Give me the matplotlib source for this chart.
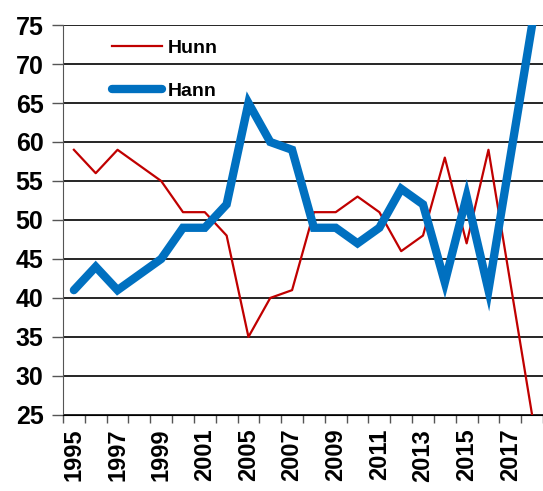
import matplotlib.pyplot as plt
import numpy as np

# data
years = [1995, 1996, 1997, 1998, 1999, 2000, 2001, 2003, 2005, 2006, 2007,
         2008, 2009, 2010, 2011, 2012, 2013, 2014, 2015, 2016, 2017, 2018]
hunn = [59, 56, 59, 57, 55, 51, 51, 48, 35, 40, 41,
        51, 51, 53, 51, 46, 48, 58, 47, 59, 42, 25]
hann = [41, 44, 41, 43, 45, 49, 49, 52, 65, 60, 59,
        49, 49, 47, 49, 54, 52, 42, 53, 41, 58, 75]
yticks = [25, 30, 35, 40, 45, 50, 55, 60, 65, 70, 75]

plt.rcParams['font.family'] = ['Liberation Sans', 'DejaVu Sans']

fig = plt.figure(figsize=(5.43, 4.91), dpi=100)
ax = fig.add_axes([0.116, 0.155, 0.884, 0.794])

x = np.arange(len(years))
ax.plot(x, hunn, color='#C00000', lw=1.6, label='Hunn', zorder=3)
ax.plot(x, hann, color='#0070C0', lw=6, label='Hann', zorder=4,
        solid_capstyle='round', solid_joinstyle='miter')

ax.set_xlim(-0.5, len(years) - 0.5)
ax.set_ylim(25, 75)

# gridlines
for v in yticks:
    ax.axhline(v, color='black', lw=1.2, zorder=1)

ax.set_yticks(yticks)
ax.set_yticklabels([str(v) for v in yticks], fontsize=18, fontweight='bold')
ax.tick_params(axis='y', direction='out', length=8, width=1, color='#555555', pad=6)

ax.set_xticks(x[::2])
ax.set_xticklabels([str(years[i]) for i in x[::2]], rotation=90,
                   fontsize=17, fontweight='bold')
ax.set_xticks(np.arange(-0.5, len(years)), minor=True)
ax.tick_params(axis='x', which='major', length=0, pad=10)
ax.tick_params(axis='x', which='minor', direction='out', length=6, width=1, color='#555555')

for s in ['top', 'right']:
    ax.spines[s].set_visible(False)
ax.spines['left'].set_color('#555555')
ax.spines['bottom'].set_color('black')

leg = ax.legend(loc='upper left', bbox_to_anchor=(0.065, 1.008), frameon=False,
                prop={'size': 14, 'weight': 'bold'}, handlelength=2.6,
                handletextpad=0.3, labelspacing=1.3)

fig.savefig('out.png', dpi=100)
